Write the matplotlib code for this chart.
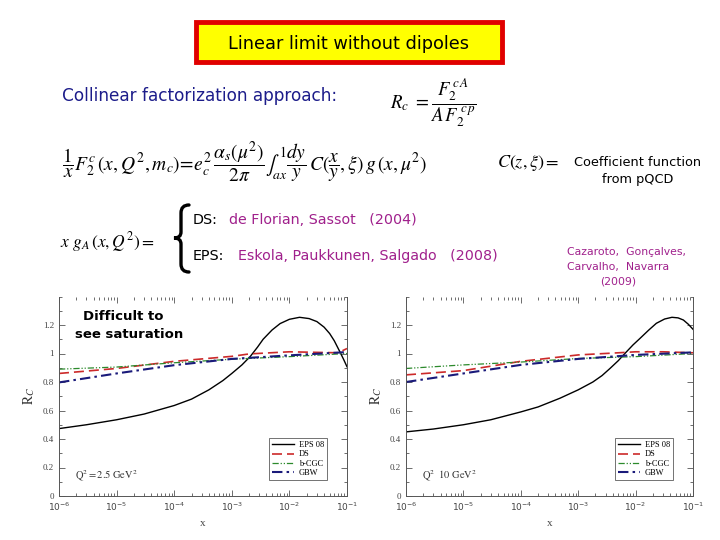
import numpy as np
import matplotlib
matplotlib.use('Agg')
import matplotlib.pyplot as plt
from matplotlib.patches import Rectangle, PathPatch
from matplotlib.path import Path
from matplotlib.ticker import LogLocator, MultipleLocator, NullFormatter

plt.rcParams['mathtext.fontset'] = 'stix'
plt.rcParams['font.family'] = 'DejaVu Sans'

# ---- data ----
labels = ['EPS 08', 'DS', 'b-CGC', 'GBW']

# Q^2 = 2.5 GeV^2
eps_x_a = [1e-6, 3e-6, 1e-5, 3e-5, 1e-4, 2e-4, 4e-4, 7e-4, 1e-3, 1.5e-3, 2.1e-3, 2.8e-3,
           3.5e-3, 5e-3, 6.9e-3, 1e-2, 1.5e-2, 2.2e-2, 3e-2, 4e-2, 5e-2, 6e-2, 7.5e-2,
           8.7e-2, 1e-1]
eps_y_a = [0.473, 0.50, 0.535, 0.575, 0.635, 0.68, 0.745, 0.81, 0.86, 0.92, 0.98, 1.045,
           1.10, 1.165, 1.21, 1.24, 1.254, 1.245, 1.224, 1.185, 1.14, 1.09, 1.013,
           0.96, 0.907]
ds_x_a = [1e-6, 1e-5, 1e-4, 1e-3, 2e-3, 1e-2, 3e-2, 7e-2, 1e-1]
ds_y_a = [0.86, 0.895, 0.945, 0.98, 0.997, 1.012, 1.008, 1.005, 1.035]
cgc_x_a = [1e-6, 1e-5, 1e-4, 1e-3, 1e-2, 1e-1]
cgc_y_a = [0.89, 0.905, 0.935, 0.96, 0.978, 1.0]
gbw_x_a = [1e-6, 1e-5, 1e-4, 1e-3, 1e-2, 1e-1]
gbw_y_a = [0.797, 0.86, 0.918, 0.962, 0.987, 1.01]

# Q^2 = 10 GeV^2
eps_x_b = [1e-6, 3e-6, 1e-5, 3e-5, 1e-4, 2e-4, 4.8e-4, 1e-3, 1.8e-3, 2.6e-3, 3.6e-3,
           5e-3, 6.5e-3, 9e-3, 1.2e-2, 1.7e-2, 2.3e-2, 3.2e-2, 4.3e-2, 5.5e-2, 6.8e-2,
           8.3e-2, 1e-1]
eps_y_b = [0.45, 0.47, 0.50, 0.535, 0.59, 0.625, 0.686, 0.745, 0.80, 0.845, 0.896,
           0.95, 1.0, 1.06, 1.107, 1.165, 1.212, 1.242, 1.254, 1.25, 1.235,
           1.205, 1.17]
ds_x_b = [1e-6, 1e-5, 1e-4, 1e-3, 5e-3, 1e-2, 3e-2, 1e-1]
ds_y_b = [0.85, 0.88, 0.945, 0.99, 1.005, 1.012, 1.012, 1.005]
cgc_x_b = [1e-6, 1e-5, 1e-4, 1e-3, 1e-2, 1e-1]
cgc_y_b = [0.895, 0.92, 0.94, 0.965, 0.978, 1.0]
gbw_x_b = [1e-6, 1e-5, 1e-4, 1e-3, 1e-2, 1e-1]
gbw_y_b = [0.80, 0.86, 0.92, 0.962, 0.99, 1.008]

panels = [
    (eps_x_a, eps_y_a, ds_x_a, ds_y_a, cgc_x_a, cgc_y_a, gbw_x_a, gbw_y_a,
     r'$\mathrm{Q}^2 = 2.5\ \mathrm{GeV}^2$'),
    (eps_x_b, eps_y_b, ds_x_b, ds_y_b, cgc_x_b, cgc_y_b, gbw_x_b, gbw_y_b,
     r'$\mathrm{Q}^2 \ \ 10\ \mathrm{GeV}^2$'),
]

W, H = 720, 540
fig = plt.figure(figsize=(7.2, 5.4), dpi=100)


def fx(x):
    return x / W


def fy(y):
    return 1 - y / H


magenta = '#a0208c'
navy = '#1c1c8a'

# title box
fig.patches.append(Rectangle((fx(196), fy(62)), fx(306), 40 / H, transform=fig.transFigure,
                             facecolor='#ffff00', edgecolor='#e00000', linewidth=3.5))
fig.text(fx(348), fy(44), 'Linear limit without dipoles', ha='center', va='center', fontsize=12.8)

fig.text(fx(62), fy(96), 'Collinear factorization approach:', color=navy, fontsize=12.2, va='center')
fig.text(fx(390), fy(103), r'$R_c\ =\dfrac{F_2^{\,c\,A}}{A\,F_2^{\,c\,p}}$', fontsize=13.5, va='center')

fig.text(fx(62), fy(162), r'$\dfrac{1}{x}F_2^c\,(x,Q^2,m_c)\!=\!e_c^2\,\dfrac{\alpha_s(\mu^2)}{2\pi}'
         r'\int_{ax}^{1}\dfrac{dy}{y}\,C(\dfrac{x}{y},\xi)\,g\,(x,\mu^2)$', fontsize=14, va='center')

fig.text(fx(497), fy(163), r'$C(z,\xi) =$', fontsize=13, va='center')
fig.text(fx(638), fy(162), 'Coefficient function', fontsize=9.3, va='center', ha='center')
fig.text(fx(638), fy(180), 'from pQCD', fontsize=9.3, va='center', ha='center')

fig.text(fx(60), fy(242), r'$x\ g_A\,(x,Q^2) =$', fontsize=12.5, va='center')

# curly brace drawn as a path
brace = [(189, 205), (181, 205), (181, 213), (181, 232), (181, 238), (174, 238),
         (181, 238), (181, 244), (181, 264), (181, 272), (189, 272)]
codes = [Path.MOVETO, Path.CURVE3, Path.CURVE3, Path.LINETO, Path.CURVE3, Path.CURVE3,
         Path.CURVE3, Path.CURVE3, Path.LINETO, Path.CURVE3, Path.CURVE3]
fig.patches.append(PathPatch(Path([(fx(a), fy(b)) for a, b in brace], codes),
                             transform=fig.transFigure, facecolor='none', edgecolor='black',
                             linewidth=2.4, capstyle='round'))

fig.text(fx(193), fy(220), 'DS:', fontsize=10.3, va='center')
fig.text(fx(229), fy(220), 'de Florian, Sassot   (2004)', fontsize=10.3, va='center', color=magenta)
fig.text(fx(193), fy(256), 'EPS:', fontsize=10.3, va='center')
fig.text(fx(238), fy(256), 'Eskola, Paukkunen, Salgado   (2008)', fontsize=10.3, va='center',
         color=magenta)

fig.text(fx(567), fy(252), 'Cazaroto,  Gonçalves,', fontsize=7.8, va='center', color=magenta)
fig.text(fx(567), fy(267), 'Carvalho,  Navarra', fontsize=7.8, va='center', color=magenta)
fig.text(fx(618), fy(281), '(2009)', fontsize=7.8, va='center', ha='center', color=magenta)

ax_pos = [(59, 347), (406, 693)]
for (x0, x1), p in zip(ax_pos, panels):
    ax = fig.add_axes([fx(x0), fy(496), (x1 - x0) / W, (496 - 296.5) / H])
    ax.plot(p[0], p[1], color='black', lw=1.0, label=labels[0])
    ax.plot(p[2], p[3], color='#cc2a2a', lw=1.2, ls=(0, (6, 3)), label=labels[1])
    ax.plot(p[4], p[5], color='#2c8a2c', lw=0.9, ls=(0, (5, 1.5, 1, 1.5, 1, 1.5)), label=labels[2])
    ax.plot(p[6], p[7], color='#1a1a7a', lw=1.5, ls=(0, (5, 2, 1.2, 2)), label=labels[3])
    ax.set_xscale('log')
    ax.set_xlim(1e-6, 1e-1)
    ax.set_ylim(0, 1.4)
    ax.xaxis.set_major_locator(LogLocator(base=10, numticks=10))
    ax.xaxis.set_minor_locator(LogLocator(base=10, subs=np.arange(2, 10), numticks=20))
    ax.xaxis.set_minor_formatter(NullFormatter())
    ax.yaxis.set_minor_locator(MultipleLocator(0.1))
    ax.set_yticks([0, 0.2, 0.4, 0.6, 0.8, 1.0, 1.2])
    ax.set_yticklabels(['0', '0.2', '0.4', '0.6', '0.8', '1', '1.2'])
    ax.tick_params(which='both', direction='in', top=True, right=True, labelsize=6.5,
                   labelcolor='#444444', color='#555555', width=0.6)
    ax.tick_params(which='major', length=4)
    ax.tick_params(which='minor', length=2)
    for lab in ax.get_yticklabels():
        lab.set_family('Liberation Serif')
    ax.spines['top'].set_visible(False)
    for s in ['left', 'right', 'bottom']:
        ax.spines[s].set_color('#555555')
        ax.spines[s].set_linewidth(0.7)
    ax.set_xlabel('x', family='Liberation Serif', fontsize=8, color='#444444', labelpad=4)
    ax.set_ylabel(r'$\mathrm{R}_C$', fontsize=10, color='#333333', labelpad=4)
    ax.text(0.055, 0.085, p[8], transform=ax.transAxes, fontsize=7.5, color='#333333')
    leg = ax.legend(loc='lower right', bbox_to_anchor=(0.945, 0.06), frameon=True,
                    fancybox=False, edgecolor='#333333', handlelength=2.6, labelspacing=0.15,
                    borderpad=0.35, handletextpad=0.6, prop={'family': 'Liberation Serif', 'size': 6})
    leg.get_frame().set_linewidth(0.6)

fig.text(fx(123), fy(316), 'Difficult to', fontsize=9.5, fontweight='bold', ha='center', va='center')
fig.text(fx(129), fy(335), 'see saturation', fontsize=9.5, fontweight='bold', ha='center', va='center')

fig.savefig('out.png', dpi=100)
